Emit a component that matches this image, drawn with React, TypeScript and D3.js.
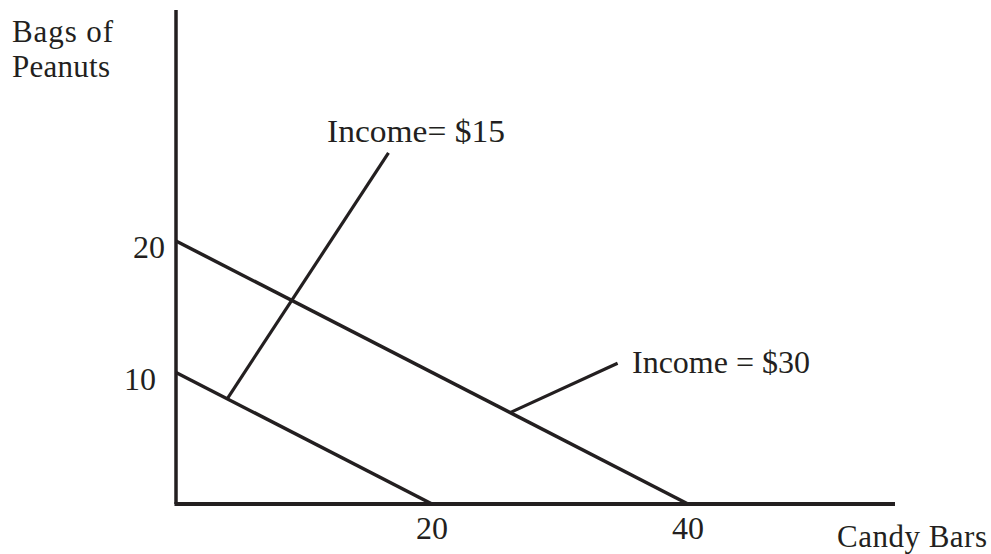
import React from "react";
import * as d3 from "d3";

// budget lines: income -> intercepts on each axis
const incomes = [15, 30];
const candyIntercepts = [20, 40];
const peanutIntercepts = [10, 20];

const xTicks = [20, 40];
const yTicks = [10, 20];

// callout leader lines (data units): start on the budget line, end near the label
const calloutStart: [number, number][] = [[4, 8], [26.1, 6.95]];
const calloutEnd: [number, number][] = [[16.6, 26.7], [34.5, 10.7]];
const calloutText = ["Income= $15", "Income = $30"];

const width = 991;
const height = 554;
const ink = "#231f20";
const font = "'Liberation Serif', 'Times New Roman', serif";

export default function App() {
  const x = d3.scaleLinear().domain([0, 40]).range([176, 688]);
  const y = d3.scaleLinear().domain([0, 20]).range([504, 241]);

  const line = d3.line<[number, number]>()
    .x(d => x(d[0]))
    .y(d => y(d[1]));

  const xMax = x.invert(895);
  const yMax = y.invert(10);

  // label anchors in pixels, next to the callout ends
  const labelPos = [
    { x: 327, y: 142, len: 178 },
    { x: 632, y: 373, len: 178 },
  ];

  return (
    <svg
      width={width}
      height={height}
      style={{ position: "absolute", left: 0, top: 0, background: "#fff" }}
      fontFamily={font}
      fill={ink}
    >
      {/* axes */}
      <path d={line([[0, yMax], [0, 0]]) ?? ""} stroke={ink} strokeWidth={3.5} fill="none" />
      <path d={line([[-0.12, 0], [xMax, 0]]) ?? ""} stroke={ink} strokeWidth={4} fill="none" />

      {/* budget lines */}
      {incomes.map((inc, i) => (
        <path
          key={inc}
          d={line([[0, peanutIntercepts[i]], [candyIntercepts[i], 0]]) ?? ""}
          stroke={ink}
          strokeWidth={3.5}
          fill="none"
        />
      ))}

      {/* callouts */}
      {calloutStart.map((s, i) => (
        <path
          key={i}
          d={line([s, calloutEnd[i]]) ?? ""}
          stroke={ink}
          strokeWidth={3.2}
          fill="none"
        />
      ))}
      {calloutText.map((t, i) => (
        <text
          key={t}
          x={labelPos[i].x}
          y={labelPos[i].y}
          fontSize={32}
          textLength={labelPos[i].len}
          lengthAdjust="spacingAndGlyphs"
        >
          {t}
        </text>
      ))}

      {/* tick labels */}
      {xTicks.map(v => (
        <text key={v} x={x(v)} y={539} fontSize={32} textAnchor="middle">
          {v}
        </text>
      ))}
      {yTicks.map(v => (
        <text key={v} x={v === 20 ? 165 : 156} y={y(v) + 17} fontSize={32} textAnchor="end">
          {v}
        </text>
      ))}

      {/* axis titles */}
      <text x={12} y={42} fontSize={31} textLength={101} lengthAdjust="spacing">Bags of</text>
      <text x={12} y={77} fontSize={31} textLength={98} lengthAdjust="spacing">Peanuts</text>
      <text x={837} y={547} fontSize={31} textLength={150} lengthAdjust="spacing">Candy Bars</text>
    </svg>
  );
}
